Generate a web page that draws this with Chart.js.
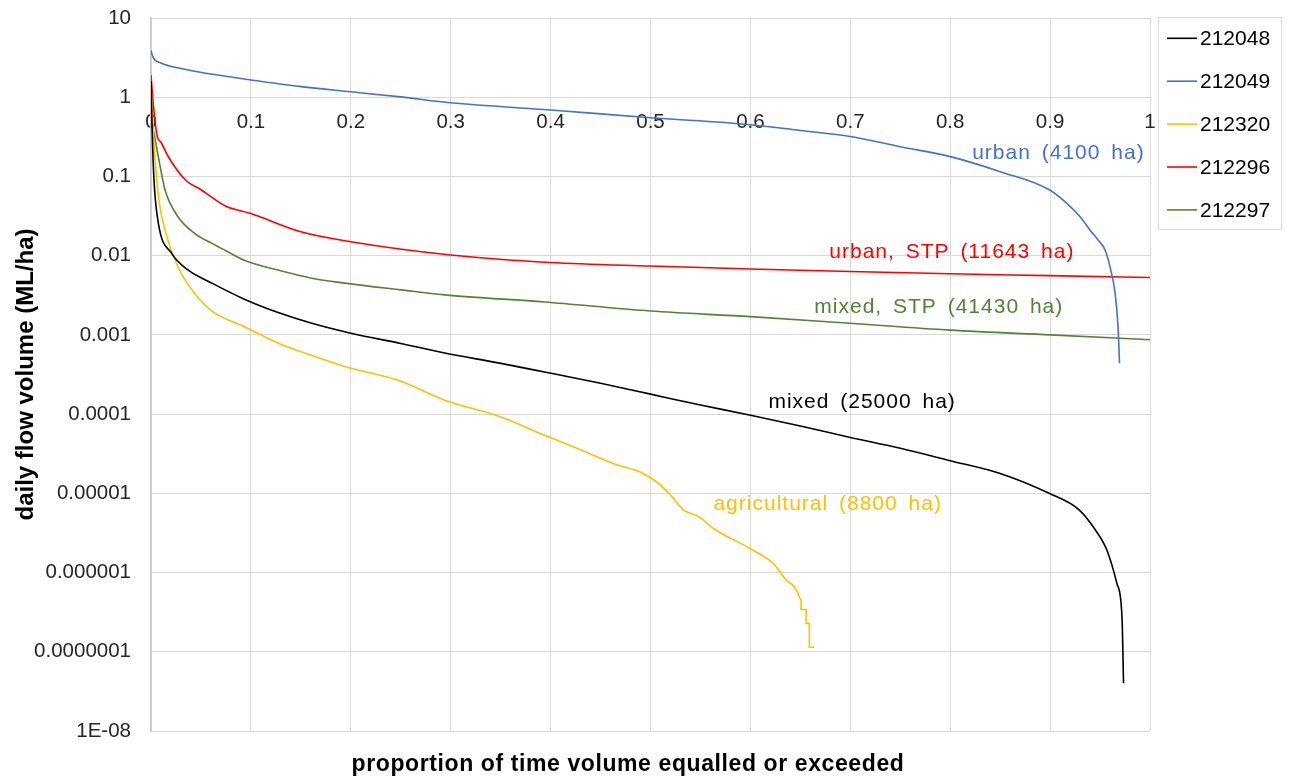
<!DOCTYPE html>
<html><head><meta charset="utf-8">
<script src="https://cdn.jsdelivr.net/npm/chart.js@4.4.1/dist/chart.umd.min.js"></script>
<style>html,body{margin:0;padding:0;background:#fff;}#wrap{width:1289px;height:780px;position:relative;}</style>
</head><body><div id="wrap"><canvas id="c" width="1289" height="780"></canvas></div>
<script>
const seriesNames = ['212048','212049','212320','212296','212297'];
const seriesColors = ['#000000','#4472C4','#FFC000','#FF0000','#548235'];

const s212048X = [0,0.001,0.003,0.0073,0.0207,0.037,0.061,0.094,0.128,0.161,0.2,0.25,0.294,0.349,0.394,0.45,0.499,0.55,0.599,0.65,0.699,0.75,0.799,0.85,0.899,0.929,0.945,0.957,0.967,0.972,0.9735];
const s212048Y = [1.6,0.45,0.09,0.026,0.0107,0.0066,0.0045,0.0028,0.0019,0.0014,0.00105,0.00078,0.00059,0.00044,0.00034,0.000245,0.00018,0.00013,0.0000977,0.0000708,0.000051,0.000037,0.000026,0.0000178,0.00001,0.0000062,0.0000035,0.0000019,0.00000072,0.00000027,0.00000004];

const s212049X = [0,0.002,0.01,0.03,0.06,0.1,0.15,0.2,0.25,0.3,0.4,0.5,0.6,0.65,0.7,0.75,0.8,0.85,0.9,0.92,0.93,0.94,0.948,0.955,0.96,0.965,0.968,0.9695];
const s212049Y = [3.9,3.2,2.7,2.3,1.96,1.65,1.36,1.17,1.01,0.85,0.69,0.55,0.45,0.38,0.32,0.237,0.178,0.115,0.067,0.042,0.031,0.021,0.0158,0.0118,0.0072,0.0034,0.00126,0.00044];

const s212320X = [0,0.003,0.008,0.014,0.027,0.044,0.061,0.094,0.128,0.161,0.194,0.25,0.294,0.349,0.394,0.43,0.466,0.489,0.506,0.52,0.533,0.549,0.563,0.6,0.623,0.636,0.643,0.647,0.6507,0.6507,0.6557,0.6557,0.659,0.659,0.664];
const s212320Y = [1.35,0.25,0.05,0.021,0.0072,0.0033,0.002,0.00126,0.00078,0.00055,0.0004,0.00026,0.00015,0.000093,0.000054,0.0000355,0.000023,0.0000187,0.000014,0.0000095,0.0000062,0.000005,0.0000036,0.000002,0.0000013,0.0000008,0.00000068,0.00000057,0.000000456,0.000000342,0.000000342,0.000000228,0.000000228,0.000000114,0.000000114];

const s212296X = [0,0.002,0.006,0.01,0.017,0.035,0.05,0.075,0.1,0.15,0.2,0.3,0.4,0.5,0.6,0.7,0.8,0.9,1.0];
const s212296Y = [1.9,0.9,0.33,0.27,0.18,0.089,0.068,0.042,0.034,0.02,0.015,0.0102,0.0082,0.0074,0.0068,0.0063,0.0059,0.0056,0.0053];

const s212297X = [0,0.002,0.004,0.008,0.014,0.027,0.044,0.061,0.074,0.094,0.127,0.161,0.194,0.25,0.294,0.394,0.5,0.6,0.7,0.8,0.9,1.0];
const s212297Y = [0.5,0.4,0.3,0.16,0.068,0.031,0.019,0.0143,0.0117,0.0087,0.0066,0.0052,0.0045,0.0037,0.0032,0.0026,0.002,0.0017,0.0014,0.00115,0.001,0.00087];

const xTickValues = [0,0.1,0.2,0.3,0.4,0.5,0.6,0.7,0.8,0.9,1];
const xTickLabels = ['0','0.1','0.2','0.3','0.4','0.5','0.6','0.7','0.8','0.9','1'];
const yTickValues = [10,1,0.1,0.01,0.001,0.0001,0.00001,0.000001,0.0000001,0.00000001];
const yTickLabels = ['10','1','0.1','0.01','0.001','0.0001','0.00001','0.000001','0.0000001','1E-08'];

const annotationTexts = ['urban (4100 ha)','urban, STP (11643 ha)','mixed, STP (41430 ha)','mixed (25000 ha)','agricultural (8800 ha)'];
const annotationColors = ['#4472C4','#FF0000','#548235','#000000','#FFC000'];
const annotationX = [0.822,0.679,0.664,0.618,0.563];
const annotationY = [0.197,0.0111,0.00224,0.000143,0.0000073];

const xTitle = 'proportion of time volume equalled or exceeded';
const yTitle = 'daily flow volume (ML/ha)';

const FONT = "'Liberation Sans', Arial, sans-serif";

function pts(xs, ys){ return xs.map((x,i)=>({x:x, y:ys[i]})); }
const allX = [s212048X,s212049X,s212320X,s212296X,s212297X];
const allY = [s212048Y,s212049Y,s212320Y,s212296Y,s212297Y];

const datasets = seriesNames.map((n,i)=>({
  label:n, data:pts(allX[i],allY[i]), borderColor:seriesColors[i], backgroundColor:seriesColors[i],
  borderWidth:1.6, pointRadius:0, cubicInterpolationMode:'monotone', fill:false
}));

const extras = {
  id:'extras',
  afterDraw(chart){
    const ctx = chart.ctx, xs = chart.scales.x, ys = chart.scales.y;
    ctx.save();
    ctx.font = '21px ' + FONT;
    ctx.textBaseline = 'middle'; ctx.textAlign = 'left';
    try{ ctx.letterSpacing = '1px'; ctx.wordSpacing = '4px'; }catch(e){}
    annotationTexts.forEach((t,i)=>{
      ctx.fillStyle = annotationColors[i];
      ctx.fillText(t, xs.getPixelForValue(annotationX[i]), ys.getPixelForValue(annotationY[i]));
    });
    ctx.font = 'bold 23px ' + FONT;
    try{ ctx.letterSpacing = '0.6px'; ctx.wordSpacing = '0px'; }catch(e){}
    ctx.fillStyle = '#000'; ctx.textAlign = 'center';
    ctx.fillText(xTitle, 628, 765);
    try{ ctx.letterSpacing = '0px'; }catch(e){}
    const L = 1158.5, T = 17.5, R = 1281.5, B = 229.5;
    ctx.strokeStyle = '#d9d9d9'; ctx.lineWidth = 1;
    ctx.strokeRect(L, T, R-L, B-T);
    ctx.font = '21px ' + FONT; ctx.textAlign = 'left';
    seriesNames.forEach((n,i)=>{
      const yy = 38.3 + i*42.9;
      ctx.strokeStyle = seriesColors[i]; ctx.lineWidth = 1.6;
      ctx.beginPath(); ctx.moveTo(1167, yy); ctx.lineTo(1197, yy); ctx.stroke();
      ctx.fillStyle = '#000';
      ctx.fillText(n, 1200, yy+1);
    });
    ctx.restore();
  }
};

new Chart(document.getElementById('c'), {
  type:'line',
  data:{ datasets },
  options:{
    responsive:false, animation:false, devicePixelRatio:1,
    layout:{ padding:{ left:0, right:139, top:18, bottom:49 } },
    plugins:{ legend:{display:false}, tooltip:{enabled:false} },
    scales:{
      x:{
        type:'linear', min:0, max:1, position:{y:1},
        afterBuildTicks: s => { s.ticks = xTickValues.map(v=>({value:v})); },
        ticks:{ callback:(v,i)=>xTickLabels[i], font:{family:FONT,size:20.5}, color:'#262626', padding:13, maxRotation:0, autoSkip:false },
        grid:{ color:'#d9d9d9', lineWidth:1, drawTicks:false },
        border:{ color:'#d9d9d9', width:1 }
      },
      y:{
        type:'logarithmic', min:1e-8, max:10, position:'left',
        afterBuildTicks: s => { s.ticks = yTickValues.map(v=>({value:v})); },
        afterFit: s => { s.width = 151; },
        ticks:{ callback:(v,i)=>yTickLabels[i], font:{family:FONT,size:20.5}, color:'#262626', padding:0, autoSkip:false },
        grid:{ color:'#d9d9d9', lineWidth:1, drawTicks:true, tickLength:20, tickColor:'rgba(0,0,0,0)' },
        border:{ color:'#c8c8c8', width:1.5 },
        title:{ display:true, text:yTitle, font:{family:FONT,size:24,weight:'bold'}, color:'#000', padding:{top:12,bottom:0} }
      }
    }
  },
  plugins:[extras]
});
</script></body></html>
